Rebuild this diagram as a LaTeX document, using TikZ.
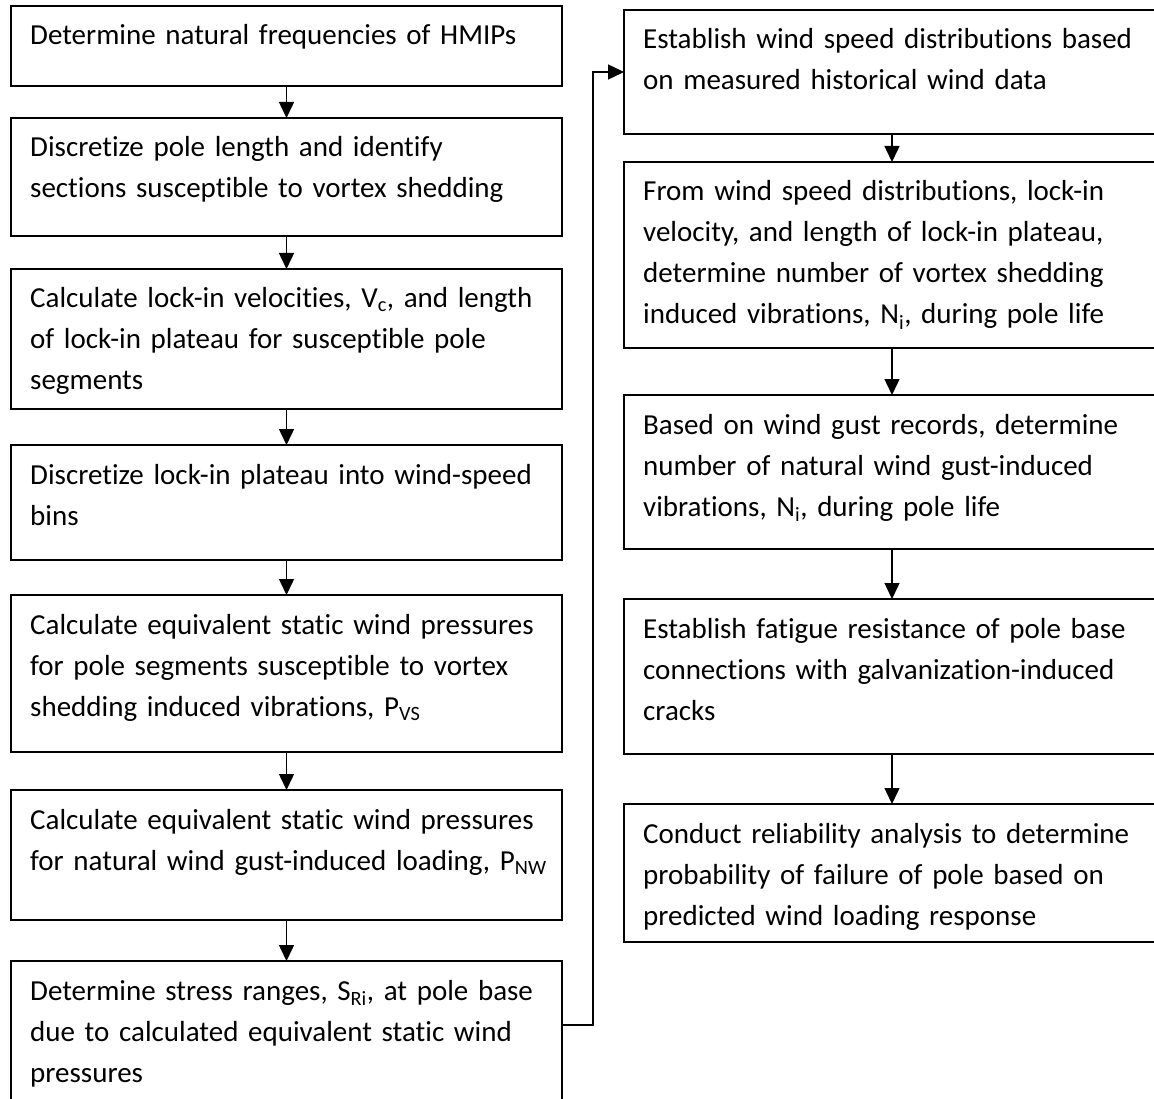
\documentclass[tikz,border=0pt]{standalone}
\usepackage{fontspec}
\setmainfont{Carlito}[RawFeature={-liga;-clig;-calt;-dlig}, WordSpace={0.8,0,0}]
\usetikzlibrary{arrows.meta}
\tikzset{
  stepbox/.style={draw, line width=2pt, rectangle, anchor=north west, inner sep=0pt, outer sep=0pt},
  lbox/.style={stepbox, minimum width=551pt},
  rbox/.style={stepbox, minimum width=536pt},
  txt/.style={anchor=base west, inner sep=0pt, text width=540pt, align=left,
    font=\fontsize{29pt}{41pt}\selectfont},
  arr/.style={line width=1.5pt, -{Triangle[length=16pt,width=15pt]}}
}
\begin{document}
\begin{tikzpicture}[x=1pt,y=-1pt]
\clip (0,0) rectangle (1154,1099);
\fill[white] (0,0) rectangle (1154,1099);
% left column
\node[lbox, minimum height=80pt]  (b1) at (11,6)   {};
\node[lbox, minimum height=118pt] (b2) at (11,118) {};
\node[lbox, minimum height=140pt] (b3) at (11,269) {};
\node[lbox, minimum height=115pt] (b4) at (11,445) {};
\node[lbox, minimum height=157pt] (b5) at (11,595) {};
\node[lbox, minimum height=130pt] (b6) at (11,790) {};
\node[lbox, minimum height=141pt] (b7) at (11,961) {};
% right column
\node[rbox, minimum height=124pt] (r1) at (624,10)  {};
\node[rbox, minimum height=186pt] (r2) at (624,162) {};
\node[rbox, minimum height=154pt] (r3) at (624,395) {};
\node[rbox, minimum height=155pt] (r4) at (624,599) {};
\node[rbox, minimum height=138pt] (r5) at (624,804) {};
% texts
\node[txt] (t1) at ([shift={(19pt,-39pt)}]b1.north west) {Determine natural frequencies of HMIPs};
\node[txt] (t2) at ([shift={(19pt,-39pt)}]b2.north west) {Discretize pole length and identify\\sections susceptible to vortex shedding};
\node[txt] (t3) at ([shift={(19pt,-39pt)}]b3.north west) {Calculate lock-in velocities, V\textsubscript{c}, and length\\of lock-in plateau for susceptible pole\\segments};
\node[txt] (t4) at ([shift={(19pt,-39pt)}]b4.north west) {Discretize lock-in plateau into wind-speed\\bins};
\node[txt] (t5) at ([shift={(19pt,-39pt)}]b5.north west) {Calculate equivalent static wind pressures\\for pole segments susceptible to vortex\\shedding induced vibrations, P\textsubscript{VS}};
\node[txt] (t6) at ([shift={(19pt,-39pt)}]b6.north west) {Calculate equivalent static wind pressures\\for natural wind gust-induced loading, P\textsubscript{NW}};
\node[txt] (t7) at ([shift={(19pt,-39pt)}]b7.north west) {Determine stress ranges, S\textsubscript{Ri}, at pole base\\due to calculated equivalent static wind\\pressures};
\node[txt] (u1) at ([shift={(19pt,-39pt)}]r1.north west) {Establish wind speed distributions based\\on measured historical wind data};
\node[txt] (u2) at ([shift={(19pt,-39pt)}]r2.north west) {From wind speed distributions, lock-in\\velocity, and length of lock-in plateau,\\determine number of vortex shedding\\induced vibrations, N\textsubscript{i}, during pole life};
\node[txt] (u3) at ([shift={(19pt,-39pt)}]r3.north west) {Based on wind gust records, determine\\number of natural wind gust-induced\\vibrations, N\textsubscript{i}, during pole life};
\node[txt] (u4) at ([shift={(19pt,-39pt)}]r4.north west) {Establish fatigue resistance of pole base\\connections with galvanization-induced\\cracks};
\node[txt] (u5) at ([shift={(19pt,-39pt)}]r5.north west) {Conduct reliability analysis to determine\\probability of failure of pole based on\\predicted wind loading response};
% connectors
\draw[arr] (b1.south) -- (b2.north);
\draw[arr] (b2.south) -- (b3.north);
\draw[arr] (b3.south) -- (b4.north);
\draw[arr] (b4.south) -- (b5.north);
\draw[arr] (b5.south) -- (b6.north);
\draw[arr] (b6.south) -- (b7.north);
\draw[arr] (r1.south) -- (r2.north);
\draw[arr] (r2.south) -- (r3.north);
\draw[arr] (r3.south) -- (r4.north);
\draw[arr] (r4.south) -- (r5.north);
\draw[arr] ([yshift=6.5pt]b7.east) -- ++(31,0) |- (r1.west);
\end{tikzpicture}
\end{document}
